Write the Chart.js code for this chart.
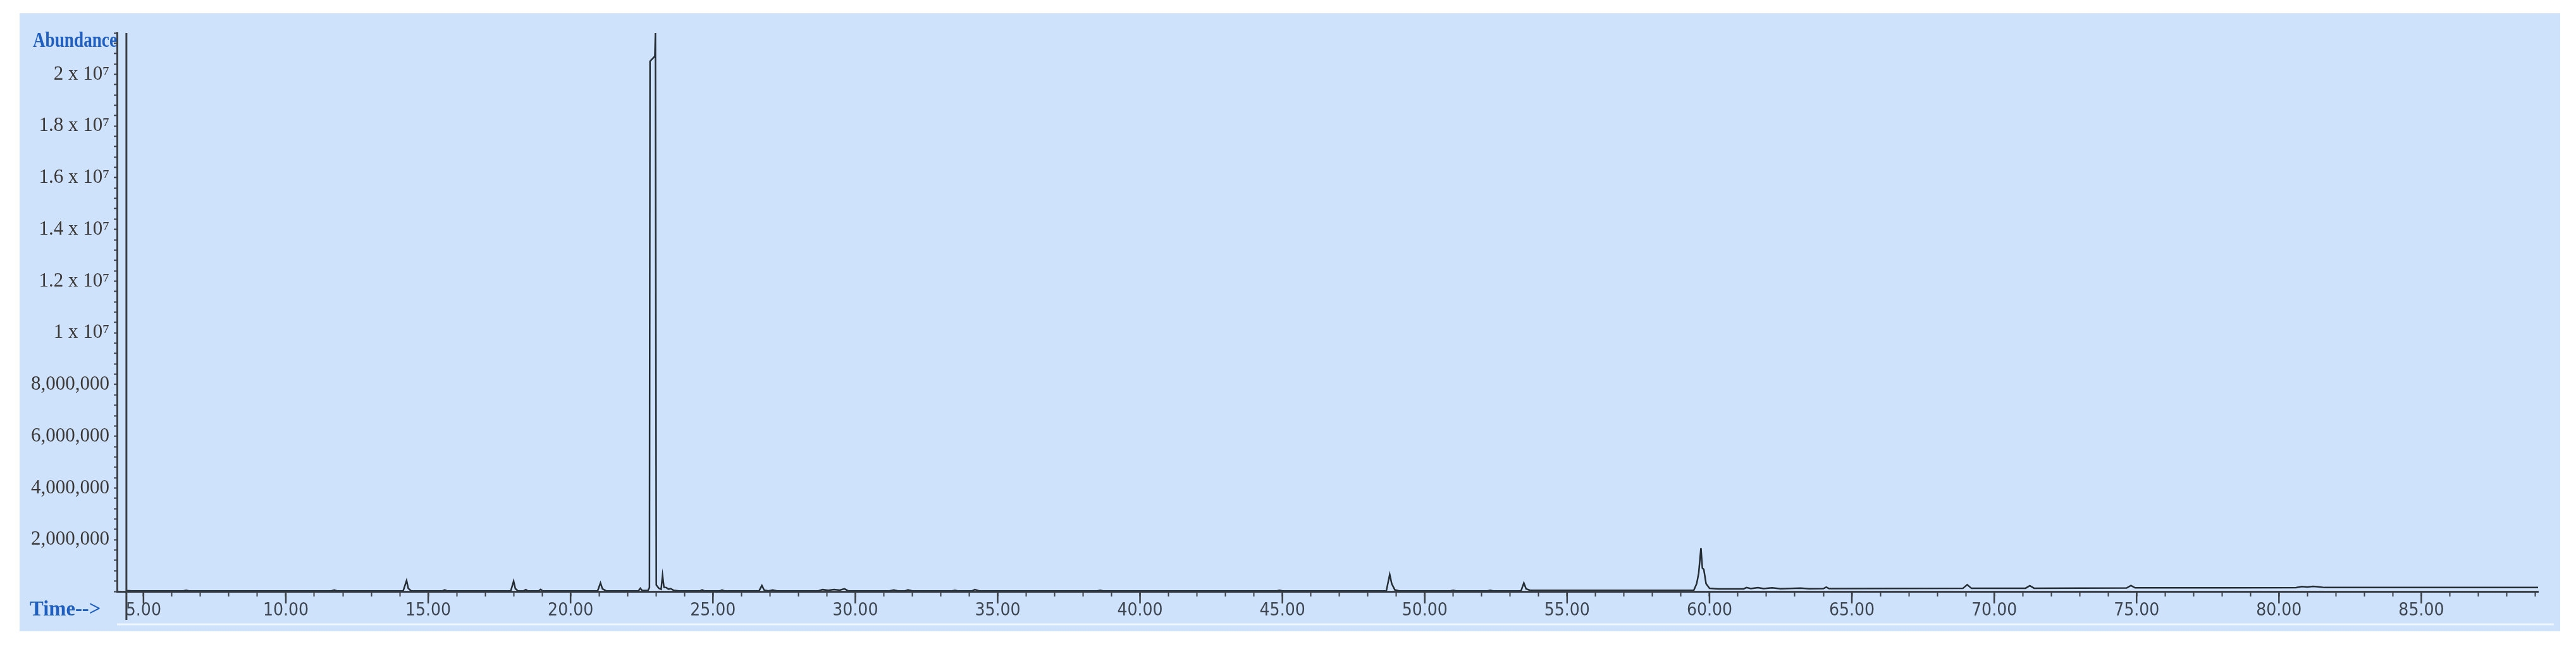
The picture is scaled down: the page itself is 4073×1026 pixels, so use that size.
<!DOCTYPE html>
<html>
<head>
<meta charset="utf-8">
<title>TIC chromatogram</title>
<script src="https://cdn.jsdelivr.net/npm/chart.js@4.4.1/dist/chart.umd.min.js"></script>
<style>
    html, body { margin: 0; padding: 0; background: #ffffff; }
    body { width: 4073px; height: 1026px; position: relative; overflow: hidden; }
    .panel {
        position: absolute;
        left: 31px;
        top: 21px;
        width: 4017px;
        height: 977px;
        background: #cfe2fc;
    }
</style>
</head>
<body>
<div class="panel">
    <canvas id="chartTic"></canvas>
</div>
<script>
// retention time (min) / abundance
const retentionTimes = [
    4.40, 4.60, 6.40, 6.50, 6.60, 11.60, 11.70, 11.80,
    14.12, 14.24, 14.30, 14.40, 15.50, 15.58, 15.66,
    17.90, 18.00, 18.06, 18.15, 18.35, 18.43, 18.50, 18.88, 18.95, 19.02,
    20.95, 21.05, 21.12, 21.25, 22.38, 22.45, 22.52,
    22.72, 22.77, 22.79, 22.96, 22.98, 23.01, 23.10, 23.18, 23.23, 23.28, 23.36, 23.44, 23.52, 23.62, 23.80,
    24.55, 24.62, 24.70, 25.25, 25.32, 25.40,
    26.62, 26.72, 26.80, 26.95, 27.10, 27.25,
    28.70, 28.85, 29.05, 29.25, 29.45, 29.62, 29.75,
    31.20, 31.35, 31.50, 31.75, 31.85, 32.00, 33.40, 33.50, 33.60, 34.10, 34.20, 34.35,
    38.50, 38.60, 38.70, 44.80, 44.90, 45.00,
    48.65, 48.77, 48.84, 48.95, 49.10, 50.90, 51.00, 51.10, 52.20, 52.30, 52.40,
    53.38, 53.48, 53.56, 53.70, 56.00, 58.50,
    59.45, 59.55, 59.62, 59.70, 59.75, 59.80, 59.88, 60.00, 60.30,
    61.20, 61.30, 61.45, 61.70, 61.90, 62.20, 62.50, 63.20, 63.50,
    64.00, 64.10, 64.20, 66.50, 68.90, 69.05, 69.20,
    71.10, 71.25, 71.40, 74.65, 74.80, 74.95, 78.00,
    80.60, 80.80, 81.00, 81.20, 81.40, 81.60, 85.00, 89.20
];

const abundance = [
    30000, 20000, 20000, 45000, 20000, 20000, 55000, 20000,
    20000, 420000, 120000, 20000, 20000, 60000, 20000,
    20000, 400000, 110000, 20000, 20000, 70000, 20000, 20000, 80000, 20000,
    20000, 330000, 100000, 20000, 20000, 120000, 30000,
    40000, 150000, 20500000, 20700000, 21600000, 250000, 120000, 80000, 620000, 160000, 150000, 90000, 110000, 40000, 20000,
    20000, 60000, 20000, 20000, 55000, 20000,
    20000, 230000, 50000, 20000, 55000, 20000,
    20000, 70000, 45000, 75000, 50000, 100000, 20000,
    20000, 55000, 20000, 20000, 60000, 20000, 20000, 45000, 20000, 20000, 70000, 20000,
    20000, 40000, 20000, 20000, 40000, 20000,
    20000, 660000, 300000, 60000, 20000, 20000, 45000, 20000, 20000, 40000, 20000,
    20000, 330000, 100000, 45000, 45000, 45000,
    50000, 300000, 700000, 1680000, 900000, 850000, 300000, 120000, 100000,
    100000, 150000, 110000, 145000, 110000, 140000, 105000, 130000, 105000,
    110000, 170000, 110000, 115000, 120000, 260000, 120000,
    125000, 220000, 125000, 135000, 230000, 140000, 140000,
    145000, 190000, 170000, 195000, 175000, 150000, 150000, 155000
];

const yTickValues = [2000000, 4000000, 6000000, 8000000, 10000000, 12000000, 14000000, 16000000, 18000000, 20000000];
const yTickLabels = ['2,000,000', '4,000,000', '6,000,000', '8,000,000', '1 x 10\u2077',
                     '1.2 x 10\u2077', '1.4 x 10\u2077', '1.6 x 10\u2077', '1.8 x 10\u2077', '2 x 10\u2077'];

const X_MIN = 4.07;
const X_MAX = 89.10;
const Y_MAX = 21600000;      // must stay a multiple of the 400k step
const RUN_START = 4.40;      // vertical frame line at start of acquisition

const AXIS = '#3a4046';
const TRACE = '#242c34';
const TITLE_BLUE = '#1f5fbf';

const decor = {
    id: 'decor',
    afterDraw(chart) {
        const { ctx, chartArea, scales } = chart;
        const xs = scales.x;
        ctx.save();

        // longer ticks at every 5 min
        ctx.strokeStyle = AXIS;
        ctx.lineWidth = 2.5;
        xs.ticks.forEach(t => {
            if (Math.abs(t.value % 5) < 1e-6) {
                const px = xs.getPixelForValue(t.value);
                ctx.beginPath();
                ctx.moveTo(px, chartArea.bottom);
                ctx.lineTo(px, chartArea.bottom + 19);
                ctx.stroke();
            }
        });

        // frame line at the start of the run
        const fx = xs.getPixelForValue(RUN_START);
        ctx.lineWidth = 3;
        ctx.beginPath();
        ctx.moveTo(fx, chartArea.top);
        ctx.lineTo(fx, chartArea.bottom + 45);
        ctx.stroke();

        // pale rule under the time labels
        ctx.strokeStyle = '#eef6ff';
        ctx.lineWidth = 3;
        ctx.beginPath();
        ctx.moveTo(chartArea.left, chartArea.bottom + 52);
        ctx.lineTo(chart.width - 10, chartArea.bottom + 52);
        ctx.stroke();

        // axis titles
        ctx.fillStyle = TITLE_BLUE;
        ctx.font = 'bold 34px "Liberation Serif", "DejaVu Serif", serif';
        ctx.textBaseline = 'alphabetic';

        ctx.save();
        ctx.translate(chartArea.left, chartArea.top + 22);
        ctx.scale(0.8, 1);
        ctx.textAlign = 'right';
        ctx.fillText('Abundance', 0, 0);
        ctx.restore();

        ctx.save();
        ctx.translate(16, chartArea.bottom + 38);
        ctx.scale(0.96, 1);
        ctx.textAlign = 'left';
        ctx.fillText('Time-->', 0, 0);
        ctx.restore();

        ctx.restore();
    }
};

const chartTic = new Chart(document.getElementById('chartTic'), {
    type: 'line',
    data: {
        datasets: [{
            label: 'TIC',
            data: retentionTimes.map((t, i) => ({ x: t, y: abundance[i] })),
            borderColor: TRACE,
            borderWidth: 2.5,
            pointRadius: 0,
            tension: 0,
            fill: false
        }]
    },
    options: {
        responsive: true,
        maintainAspectRatio: false,
        animation: false,
        layout: { padding: { top: 31, right: 35, left: 0, bottom: 0 } },
        plugins: {
            legend: { display: false },
            tooltip: { enabled: false }
        },
        scales: {
            x: {
                type: 'linear',
                min: X_MIN,
                max: X_MAX,
                afterFit: s => { s.height = 63; },
                border: { display: true, color: AXIS, width: 3 },
                grid: { drawOnChartArea: false, drawTicks: true, tickLength: 8, tickWidth: 2, tickColor: AXIS },
                ticks: {
                    stepSize: 1,
                    includeBounds: false,
                    autoSkip: false,
                    maxRotation: 0,
                    padding: 6,
                    color: '#3d4650',
                    font: { family: '"Liberation Sans Narrow", "DejaVu Sans Condensed", "Liberation Sans"', size: 28 },
                    callback: v => (Math.abs(v % 5) < 1e-6 ? v.toFixed(2) : '')
                }
            },
            y: {
                type: 'linear',
                min: 0,
                max: Y_MAX,
                afterFit: s => { s.width = 154; },
                border: { display: true, color: AXIS, width: 3 },
                grid: { drawOnChartArea: false, drawTicks: true, tickLength: 5, tickWidth: 2, tickColor: AXIS },
                ticks: {
                    stepSize: 400000,
                    autoSkip: false,
                    padding: 7,
                    color: '#3b3836',
                    font: { family: '"Liberation Serif", "DejaVu Serif", serif', size: 31 },
                    callback: v => {
                        const i = yTickValues.findIndex(t => Math.abs(t - v) < 1);
                        return i >= 0 ? yTickLabels[i] : '';
                    }
                }
            }
        }
    },
    plugins: [decor]
});
</script>
</body>
</html>
